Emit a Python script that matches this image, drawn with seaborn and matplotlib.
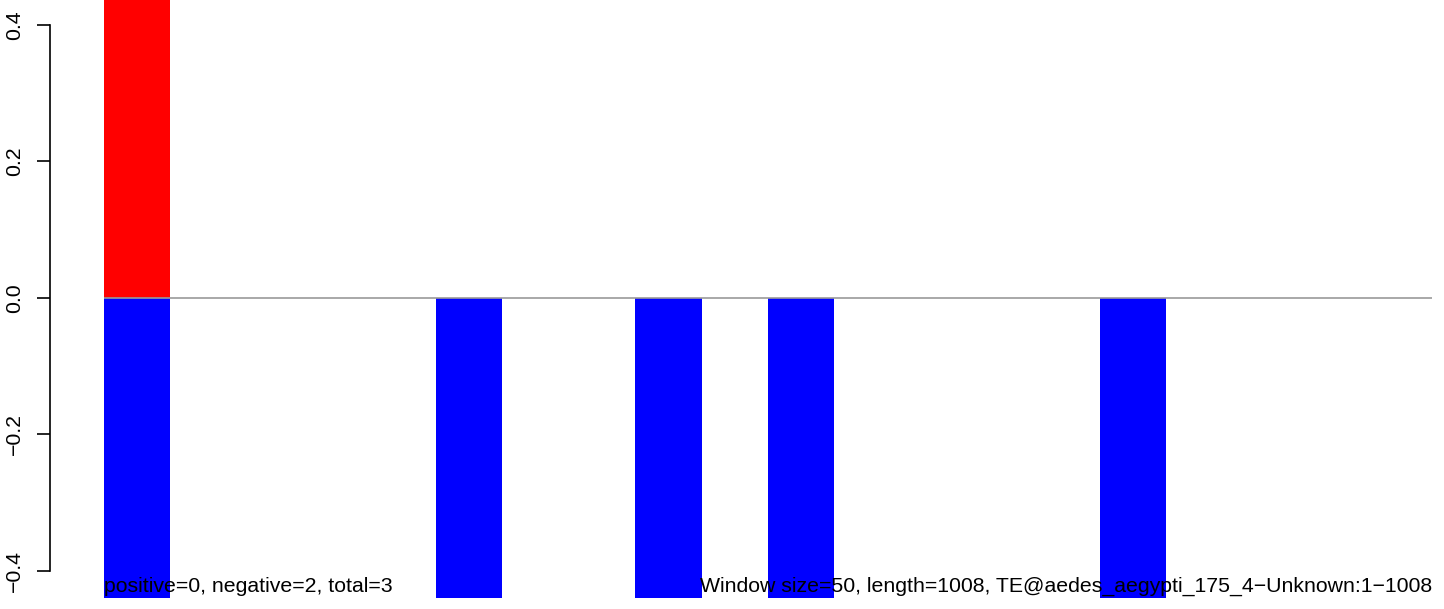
import matplotlib
matplotlib.use("Agg")
import matplotlib.pyplot as plt
import numpy as np
import pandas as pd
import seaborn as sns

# window start positions (bp), window size 50
window_size = 50
seq_length = 1008
window_starts = list(range(0, 1000, window_size))
# positive-strand score per window (clipped by the plot region)
pos_values = [0.5] + [0.0] * 19
# negative-strand score per window
neg_values = [0.0] * 20
for w in [0, 5, 8, 10, 15]:
    neg_values[w] = -0.5

y_ticks = [-0.4, -0.2, 0.0, 0.2, 0.4]
left_label = "positive=0, negative=2, total=3"
right_label = "Window size=50, length=1008, TE@aedes_aegypti_175_4\u2212Unknown:1\u22121008"

sns.set_style("white")
plt.rcParams['font.family'] = ['Liberation Sans', 'DejaVu Sans']

df = pd.DataFrame({
    "center": [s + window_size / 2 for s in window_starts],
    "pos": pos_values,
    "neg": neg_values,
})

fig = plt.figure(figsize=(14.44, 6.09), dpi=100)
ax = fig.add_axes([104 / 1444, 11 / 609, 1328 / 1444, 598 / 609])

sns.barplot(data=df, x="center", y="pos", native_scale=True, width=1,
            color="#ff0000", saturation=1, ax=ax, linewidth=0)
sns.barplot(data=df, x="center", y="neg", native_scale=True, width=1,
            color="#0000ff", saturation=1, ax=ax, linewidth=0)

ax.axhline(0, color="#999999", linewidth=1.2, zorder=3)

ax.set_xlim(0, 1000)
ax.set_ylim(-0.4396, 0.4366)

for s in ["top", "right", "bottom"]:
    ax.spines[s].set_visible(False)
ax.spines["left"].set_position(("outward", 39))
ax.spines["left"].set_bounds(-0.4, 0.4)
ax.spines["left"].set_linewidth(1.2)
ax.spines["left"].set_color("black")
ax.set_yticks(y_ticks)
ax.set_yticklabels([f"{t:.1f}".replace("-", "\u2212") for t in y_ticks],
                   rotation=90, va="center", fontsize=15.3)
ax.tick_params(axis="y", length=9.4, width=1.2, pad=9, left=True,
               color="black", labelcolor="black")
ax.set_xticks([])
ax.set_xlabel("")
ax.set_ylabel("")

ax.text(0, 0.003, left_label, transform=ax.transAxes, ha="left", va="bottom",
        fontsize=15.3, color="black", zorder=5)
ax.text(1, 0.003, right_label, transform=ax.transAxes, ha="right", va="bottom",
        fontsize=15.3, color="black", zorder=5)

fig.savefig("out.png", dpi=100)
